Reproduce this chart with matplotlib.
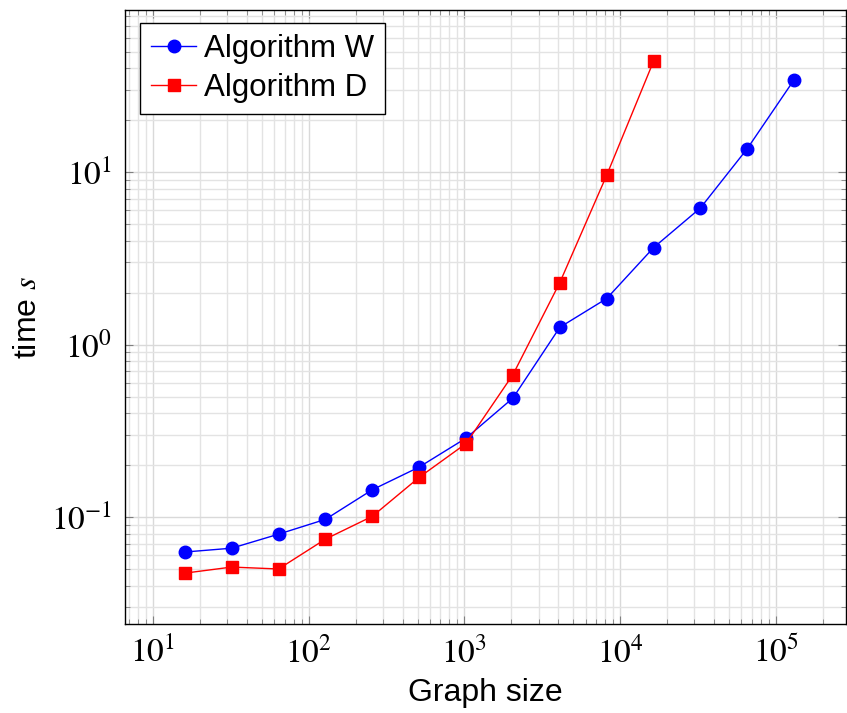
import numpy as np
import matplotlib
matplotlib.use('Agg')
import matplotlib.pyplot as plt
from matplotlib.ticker import LogLocator, NullFormatter

# Graph sizes (powers of two)
sizes_w = [16, 32, 64, 128, 256, 512, 1024, 2048, 4096, 8192, 16384, 32768, 65536, 131072]
time_w = [0.0627, 0.066, 0.0796, 0.097, 0.144, 0.195, 0.287, 0.49, 1.26, 1.85, 3.65, 6.2, 13.7, 34.4]

sizes_d = [16, 32, 64, 128, 256, 512, 1024, 2048, 4096, 8192, 16384]
time_d = [0.0473, 0.0513, 0.050, 0.0745, 0.101, 0.17, 0.267, 0.67, 2.29, 9.6, 44.0]

plt.rcParams['font.family'] = ['Liberation Sans', 'DejaVu Sans']
plt.rcParams['mathtext.fontset'] = 'stix'

fig = plt.figure(figsize=(8.47, 7.13), dpi=100)
ax = fig.add_axes([125 / 847, 1 - 624 / 713, 721 / 847, 614 / 713])

ax.plot(sizes_w, time_w, color='blue', lw=1, marker='o', ms=9, label='Algorithm W')
ax.plot(sizes_d, time_d, color='red', lw=1, marker='s', ms=8.5, label='Algorithm D')

ax.set_xscale('log')
ax.set_yscale('log')
ax.set_xlim(10 ** 0.82, 10 ** 5.45)
ax.set_ylim(10 ** -1.62, 10 ** 1.94)

ax.xaxis.set_major_locator(LogLocator(base=10, numticks=20))
ax.xaxis.set_minor_locator(LogLocator(base=10, subs=np.arange(2, 10), numticks=20))
ax.xaxis.set_minor_formatter(NullFormatter())
ax.yaxis.set_major_locator(LogLocator(base=10, numticks=20))
ax.yaxis.set_minor_locator(LogLocator(base=10, subs=np.arange(2, 10), numticks=20))
ax.yaxis.set_minor_formatter(NullFormatter())

ax.grid(True, which='major', color='#d9d9d9', lw=1)
ax.grid(True, which='minor', color='#e3e3e3', lw=1)
ax.set_axisbelow(True)

ax.tick_params(which='both', direction='in', top=True, right=True, color='#808080')
ax.tick_params(which='major', length=6, labelsize=24, pad=9)
ax.tick_params(which='minor', length=3.5)
# serif tick labels, like the TeX original
for lab in ax.get_xticklabels() + ax.get_yticklabels():
    lab.set_fontfamily('STIXGeneral')

for sp in ax.spines.values():
    sp.set_linewidth(1)
    sp.set_color('black')

ax.set_xlabel('Graph size', fontsize=23, labelpad=6)
ax.set_ylabel('time $s$', fontsize=23, labelpad=6)

ax.legend(loc='upper left', fontsize=22.5, fancybox=False, edgecolor='black',
          framealpha=1, borderpad=0.35, handlelength=1.45, handletextpad=0.25,
          labelspacing=0.3, borderaxespad=0, bbox_to_anchor=(0.021, 0.979))

fig.savefig('out.png', dpi=100)
